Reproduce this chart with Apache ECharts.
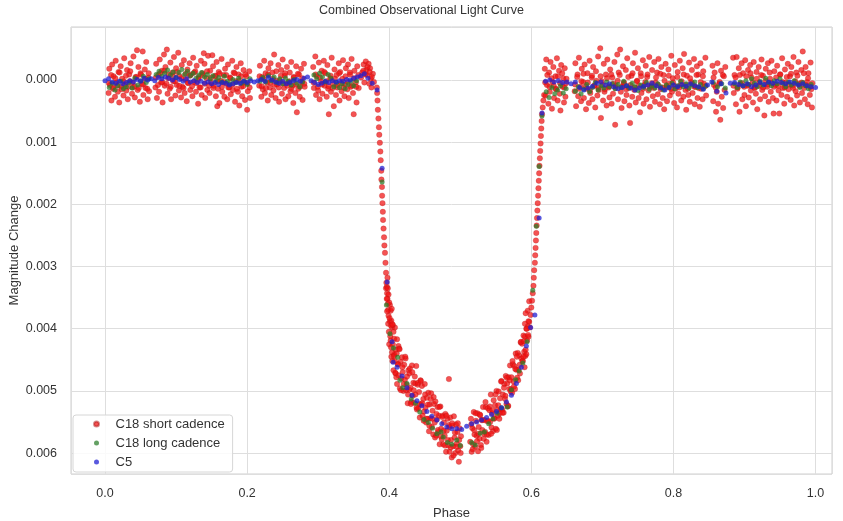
<!DOCTYPE html>
<html>
<head>
<meta charset="utf-8">
<script src="https://cdn.jsdelivr.net/npm/echarts@6/dist/echarts.min.js"></script>
<style>html,body{margin:0;padding:0;background:#fff}#c{width:843px;height:521px}</style>
</head>
<body>
<div id="c"></div>
<script>
const chartTitle = 'Combined Observational Light Curve';
const xName = 'Phase';
const yName = 'Magnitude Change';
const seriesNames = ['C18 short cadence', 'C18 long cadence', 'C5'];

// C18 short cadence [phase, magnitude change]
const shortCadence = [
[.005,.00021],[.006,-.00018],[.007,.00008],[.009,.00033],[.010,-.00025],[.011,.00014],[.012,-.00006],[.014,.00027],[.015,-.00031],[.016,.00004],[.018,.00019],[.019,-.00013],[.020,.00036],[.022,-.00022],[.023,.00011],[.024,-.00002],[.026,.00025],[.027,-.00035],[.028,.00007],[.030,.00017],[.031,-.00016],[.032,.00031],[.034,-.00009],[.035,.00002],[.036,-.00027],[.038,.00022],[.039,.00012],[.040,-.00038],[.042,.00028],[.043,-.00005],[.045,-.00048],[.046,.00016],[.047,-.00021],[.049,.00035],[.050,-.00011],[.052,.00006],[.053,-.00046],[.054,.00024],[.056,-.00017],[.057,.00013],[.058,-.00029],[.060,.00031],[.061,-.00004],[.062,.00018],
[.071,.00012],[.072,-.00026],[.073,.00029],[.075,-.00008],[.076,.00019],[.077,-.00033],[.079,.00004],[.080,-.00015],[.081,.00036],[.083,-.00041],[.084,.00009],[.085,-.00021],[.087,-.00049],[.088,.00022],[.089,-.00003],[.091,.00014],[.092,-.00028],[.093,.00031],[.095,-.00012],[.096,.00002],[.097,-.00037],[.099,.00025],[.100,-.00019],[.101,.00008],[.103,-.00044],[.104,.00017],[.105,-.00006],[.107,.00028],[.108,-.00024],[.109,.00011],[.111,-.00032],[.112,.00021],[.113,-.00001],[.115,.00034],[.116,-.00017],[.117,.00005],[.119,-.00027],[.120,.00016],[.121,-.00009],[.123,.00026],[.124,-.00036],[.125,.00003],[.127,-.00014],[.128,.00019],[.129,-.00023],[.131,.00038],[.132,-.00005],[.133,.00012],[.135,-.00031],[.136,.00024],[.137,-.00011],[.139,-.00043],[.140,-.00026],[.141,.00029],[.143,-.00003],[.144,.00016],[.145,-.00039],[.147,.00021],[.148,-.00015],[.149,.00004],[.151,-.00040],[.152,-.00022],[.153,.00009],[.155,-.00007],[.156,.00026],[.157,-.00029],[.158,.00042],[.159,.00014],[.160,-.00013],[.161,.00037],[.163,.00001],[.164,-.00034],[.165,.00019],[.167,-.00008],[.168,.00027],[.169,-.00018],[.171,.00006],[.172,.00031],[.173,-.00025],[.175,.00012],[.176,-.00004],[.177,.00023],[.179,-.00031],[.180,.00016],[.181,-.00012],[.183,.00035],[.184,.00002],[.185,-.00021],[.187,.00019],[.188,-.00009],[.189,.00041],[.191,-.00027],[.192,.00011],[.193,.00026],[.195,-.00016],[.196,.00004],[.197,.00032],[.199,-.00006],[.200,.00048],[.201,.00018],[.203,-.00014],[.204,.00029],
[.217,.00009],[.218,-.00023],[.220,.00027],[.221,-.00005],[.222,.00015],[.224,-.00031],[.225,.00021],[.226,-.00011],[.228,.00004],[.229,.00033],[.230,-.00019],[.232,.00012],[.233,-.00027],[.234,.00024],[.236,-.00002],[.237,.00017],[.238,-.00041],[.240,.00029],[.241,-.00014],[.242,.00007],[.244,-.00024],[.245,.00035],[.246,.00001],[.248,-.00016],[.249,.00022],[.250,-.00033],[.252,.00013],[.253,-.00007],[.254,.00031],[.256,-.00021],[.257,.00005],[.258,.00026],[.260,-.00012],[.261,.00018],[.262,-.00029],[.264,.00009],[.265,.00037],[.266,-.00004],[.268,.00021],[.269,-.00022],[.270,.00052],[.272,.00014],[.273,-.00009],[.274,.00027],[.276,-.00018],[.277,.00003],[.278,.00032],[.280,-.00026],[.281,.00011],
[.293,-.00021],[.294,.00013],[.296,-.00038],[.297,.00024],[.298,-.00006],[.300,.00017],[.301,-.00028],[.302,.00031],[.304,.00002],[.305,-.00015],[.306,.00022],[.308,-.00031],[.309,.00009],[.310,-.00011],[.312,.00027],[.313,-.00024],[.314,.00014],[.315,.00055],[.317,-.00003],[.318,.00019],[.319,-.00036],[.321,.00006],[.322,.00042],[.323,-.00017],[.325,.00024],[.326,-.00008],[.327,.00012],[.329,-.00027],[.330,.00033],[.331,-.00013],[.333,.00018],[.334,-.00002],[.335,-.00032],[.337,.00026],[.338,.00007],[.339,-.00019],[.341,.00015],[.342,-.00025],[.343,.00029],[.345,-.00009],[.346,.00011],[.347,-.00034],[.349,.00021],[.350,.00055],[.351,-.00015],[.353,.00004],[.354,.00036],[.355,-.00022],[.357,.00013],
[.362,-.00012],[.364,-.00025],[.365,.00004],[.367,-.00030],[.368,-.00017],[.369,-.00008],[.371,-.00026],[.372,.00006],[.373,-.00019],[.374,-.00002],[.375,.00012],[.377,-.00010],
[.0055,.00005],[.0085,-.00008],[.0115,.00012],[.0145,-.00003],[.0175,.00009],[.0205,-.00012],[.0235,.00015],[.0265,.00002],[.0295,-.00007],[.0325,.00011],[.0355,-.00014],[.0385,.00004],[.0415,.0001],[.0445,-.00005],[.0475,.00013],[.0505,-.00009],[.0535,.00007],[.0565,-.00002],[.0595,.00014],[.0615,-.00011],
[.0715,-.00004],[.0745,.00008],[.0775,-.00011],[.0805,.00003],[.0835,-.00015],[.0865,.00006],[.0895,-.00009],[.0925,.00011],[.0955,-.00006],[.0985,.00002],[.1015,-.00013],[.1045,.00009],[.1075,-.00003],[.1105,.00013],[.1135,-.0001],[.1165,.00004],[.1195,-.00007],[.1225,.0001],[.1255,-.00012],[.1285,.00005],[.1315,-.00002],[.1345,.00012],[.1375,-.00008],[.1405,.00006],[.1435,-.00014],[.1465,.00009],[.1495,-.00004],[.1525,.00013],[.1555,-.00006],[.1585,.00002],[.1615,-.0001],[.1645,.00011],[.1675,.00003],[.1705,-.00008],[.1735,.00012],[.1765,-.00003],[.1795,.00007],[.1825,-.00011],[.1855,.00014],[.1885,.00001],[.1915,-.00006],[.1945,.0001],[.1975,-.00009],[.2005,.00005],[.2035,.00012],
[.2175,-.00006],[.2205,.0001],[.2235,-.00002],[.2265,.00013],[.2295,-.00009],[.2325,.00004],[.2355,-.00012],[.2385,.00008],[.2415,.00001],[.2445,.00012],[.2475,-.00007],[.2505,.00005],[.2535,-.00011],[.2565,.00009],[.2595,.00002],[.2625,.00014],[.2655,-.00005],[.2685,.00007],[.2715,-.0001],[.2745,.00011],[.2775,-.00003],[.2805,.00006],
[.2935,.00004],[.2965,-.00009],[.2995,.00011],[.3025,-.00004],[.3055,.00007],[.3085,-.00013],[.3115,.00002],[.3145,.0001],[.3175,-.00007],[.3205,.00013],[.3235,-.00002],[.3265,.00008],[.3295,-.00011],[.3325,.00005],[.3355,.00012],[.3385,-.00006],[.3415,.00003],[.3445,-.00012],[.3475,.00009],[.3505,-.00003],[.3535,.00011],[.3565,-.00008],
[.3605,-.00004],[.3635,-.00015],[.3665,-.00009],[.3695,-.00021],[.3725,-.00013],[.3755,-.00005],[.3785,.00003],
[.3825,.00012],[.383,.00021],[.3835,.00033],[.384,.00048],[.3848,.00062],[.3855,.00076],[.386,.00088],[.3868,.00101],[.3875,.00115],[.388,.00129],[.3888,.00146],[.389,.00160],[.3898,.00172],[.390,.00186],[.3905,.00198],[.391,.00212],[.3913,.00225],[.392,.00239],[.3927,.00253],[.3932,.00266],[.394,.00278],[.3947,.00294],[.3955,.0031],[.396,.00326],[.3965,.00333],[.397,.00343],[.3975,.00352],[.398,.0036],[.3985,.0037],[.399,.00379],[.399,.00345],[.401,.00362],[.402,.00371],[.403,.00445],[.404,.00398],[.406,.00405],[.408,.00398],[.409,.00472],[.411,.00489],[.413,.00428],
[.3955,.00335],[.3965,.00352],[.3975,.00318],[.3985,.00392],[.3995,.00405],[.400,.00358],[.4015,.00412],[.4035,.00368],[.405,.00394],[.407,.00442],[.398,.00335],[.397,.00372],[.4025,.00395],[.4045,.00452],
[.400,.00425],[.401,.00388],[.402,.00419],[.403,.00387],[.404,.00438],[.405,.00425],[.406,.00467],[.407,.00416],[.408,.00452],[.409,.00434],[.410,.00478],[.411,.00417],[.412,.00457],[.413,.00475],[.414,.00432],[.415,.00496],[.416,.00453],[.417,.0048],[.418,.00446],[.419,.0047],[.420,.005],[.421,.00458],[.422,.00482],[.423,.00448],[.424,.00499],[.425,.00477],[.426,.0052],[.427,.00467],[.428,.00498],[.429,.00464],[.430,.00495],[.431,.00518],[.432,.00459],[.433,.00508],[.434,.00487],[.435,.00519],[.436,.00477],[.437,.00506],[.438,.0046],[.439,.0053],[.440,.0049],[.441,.00528],[.442,.00502],[.443,.00543],[.444,.00483],[.445,.00522],[.446,.00492],[.447,.0054],[.448,.00513],[.449,.00533],[.450,.00489],[.451,.00527],[.452,.00551],[.453,.00511],[.454,.00545],[.455,.00503],[.456,.00565],[.457,.00522],[.458,.00544],[.459,.00504],[.460,.00558],[.461,.00532],[.462,.0057],[.463,.00521],[.464,.00551],[.465,.00517],[.466,.00572],[.467,.00546],[.468,.00526],[.469,.00566],[.470,.0054],[.471,.00586],[.472,.00525],[.473,.00561],[.474,.00578],[.475,.0054],[.476,.00586],[.477,.00551],[.478,.00572],[.479,.00537],[.480,.00598],[.481,.00564],[.482,.00545],[.483,.00588],[.484,.00555],[.484,.00481],[.485,.00598],[.486,.00543],[.487,.00579],[.488,.00607],[.489,.00556],[.490,.00589],[.491,.00541],[.492,.00575],[.493,.006],[.494,.00554],[.495,.00585],[.496,.00566],[.497,.00596],[.498,.00614],[.499,.0056],[.500,.00589],[.501,.00573],
[.4005,.00383],[.4025,.0043],[.4045,.00393],[.4065,.00444],[.4085,.00471],[.4105,.0044],[.4125,.00457],[.4145,.00433],[.4165,.00499],[.4185,.00462],[.4205,.00489],[.4225,.00445],[.4245,.0049],[.4265,.00506],[.4285,.00472],[.4305,.00521],[.4325,.0047],[.4345,.00499],[.4365,.00488],[.4385,.00527],[.4405,.00487],[.4425,.00521],[.4445,.00484],[.4465,.0052],[.4485,.00548],[.4505,.00506],[.4525,.00545],[.4545,.00522],[.4565,.00556],[.4585,.00513],[.4605,.00545],[.4625,.0051],[.4645,.00575],[.4665,.00537],[.4685,.00563],[.4705,.00526],[.4725,.00573],[.4745,.00542],[.4765,.00564],[.4785,.00588],[.4805,.0054],[.4825,.00579],[.4845,.00558],[.4865,.00591],[.4885,.00552],[.4905,.00604],[.4925,.00567],[.4945,.0059],[.4965,.00552],[.4985,.00579],[.5005,.006],
[.514,.00582],[.515,.00545],[.516,.00598],[.517,.0056],[.518,.00586],[.519,.00534],[.520,.0057],[.521,.0059],[.522,.00548],[.523,.00572],[.524,.00536],[.525,.00597],[.526,.00558],[.527,.00577],[.528,.00539],[.529,.00587],[.530,.00547],[.531,.00563],[.532,.00526],[.533,.00577],[.534,.00547],[.535,.00566],[.536,.00526],[.537,.00582],[.538,.00549],[.539,.00528],[.540,.00571],[.541,.00531],[.542,.0055],[.543,.00506],[.544,.00559],[.545,.00536],[.546,.00565],[.547,.00515],[.548,.00544],[.549,.00523],[.550,.00561],[.551,.005],[.552,.00531],[.553,.0054],[.554,.00501],[.555,.00545],[.556,.00512],[.557,.0053],[.558,.00484],[.559,.0053],[.560,.00506],[.561,.00535],[.562,.00489],[.563,.00513],[.564,.00476],[.565,.00521],[.566,.00488],[.567,.00525],[.568,.00478],[.569,.00497],[.570,.00459],[.571,.00501],[.572,.00478],[.573,.00503],[.574,.00457],[.575,.00485],[.576,.0046],[.577,.00497],[.578,.0044],[.579,.00466],[.580,.00479],[.581,.00439],[.582,.00466],[.583,.00443],[.584,.00472],[.585,.00422],[.586,.00448],[.587,.00424],[.588,.00452],[.589,.00411],[.590,.00437],[.591,.00413],[.592,.00434],[.593,.004],[.594,.00419],[.595,.00396],[.596,.00413],[.597,.00389],[.598,.00398],
[.5155,.00554],[.5175,.00594],[.5195,.00563],[.5215,.00536],[.5235,.00581],[.5255,.00569],[.5275,.00538],[.5295,.00592],[.5315,.00547],[.5335,.00569],[.5355,.00518],[.5375,.0057],[.5395,.00548],[.5415,.00525],[.5435,.00569],[.5455,.00531],[.5475,.00545],[.5495,.00506],[.5515,.00563],[.5535,.00523],[.5555,.00536],[.5575,.00485],[.5595,.00535],[.5615,.00495],[.5635,.00508],[.5655,.00479],[.5675,.00524],[.5695,.00483],[.5715,.00497],[.5735,.00452],[.5755,.00493],[.5775,.00465],[.5795,.00445],[.5815,.00483],[.5835,.00458],[.5855,.00421],[.5875,.00452],[.5895,.0042],[.5915,.00444],[.5935,.004],[.5955,.0041],
[.595,.00371],[.596,.00388],[.593,.00441],[.591,.00392],[.589,.00445],[.597,.00356],[.592,.00375],[.5905,.00462],
[.599,.00378],[.600,.00366],[.601,.00355],[.602,.00343],[.603,.00331],[.6035,.00318],[.604,.00306],[.605,.00294],[.6055,.00282],[.606,.0027],[.6065,.00258],[.607,.00246],[.6075,.00234],[.608,.00222],[.6085,.0021],[.609,.00198],[.6095,.00186],[.610,.00174],[.6105,.00162],[.611,.0015],[.6115,.00138],[.612,.00126],[.6125,.00114],[.613,.00102],[.6135,.0009],[.614,.00078],[.6145,.00066],[.615,.00055],[.616,.00044],[.617,.00033],[.618,.00024],
[.619,-.00018],[.620,.00025],[.621,-.00033],[.622,.00008],[.624,.00038],[.625,-.00012],[.626,.00019],[.627,-.00029],[.629,.00046],[.630,.00003],[.631,-.00021],[.632,.00029],[.634,-.00006],[.635,.00015],[.636,-.00035],[.637,.00033],[.639,-.00015],[.640,.00022],[.641,.00049],[.642,-.00024],[.644,.00011],[.645,-.00003],[.646,.00036],[.647,-.00019],[.648,.00027],[.649,.00005],
[.6195,.00004],[.6225,-.00008],[.6255,.00011],[.6285,-.00003],[.6315,.00009],[.6345,.00014],[.6375,-.00006],[.6405,.00005],[.6435,-.00011],[.6465,.00012],[.6495,-.00002],
[.661,.00018],[.662,-.00027],[.663,.00042],[.665,-.00009],[.666,.00026],[.667,-.00036],[.669,.00011],[.670,.00034],[.671,-.00018],[.673,.00003],[.674,.00029],[.675,-.00025],[.677,.00047],[.678,.00014],[.679,-.00011],[.681,.00037],[.682,-.00031],[.683,.00021],[.685,-.00004],[.686,.00031],[.687,-.00021],[.689,.00009],[.690,.00044],[.691,-.00014],[.693,.00025],[.694,-.00038],[.695,.00016],[.697,-.00051],[.698,.00061],[.699,.00002],[.701,.00033],[.702,-.00026],[.703,.00019],[.705,-.00009],[.706,.00041],[.707,-.00033],[.709,.00012],[.710,.00028],[.711,-.00017],[.713,.00038],[.714,-.00004],[.715,.00022],[.717,-.00029],[.718,.00072],[.719,.00009],[.721,-.00041],[.722,.00031],[.723,-.00012],[.725,-.00049],[.726,.00019],[.727,.00045],[.729,-.00022],[.730,.00006],[.731,.00034],[.733,-.00016],[.734,.00024],[.735,-.00035],[.737,.00013],[.738,.00041],[.739,.00069],[.741,-.00007],[.742,.00027],[.743,-.00027],[.745,.00016],[.746,-.00044],[.747,.00036],[.749,.00001],[.750,-.00019],[.751,.00029],[.753,.00052],[.754,-.00011],[.755,.00021],[.757,-.00032],[.758,.00038],[.759,.00008],[.761,-.00023],[.762,.00031],[.763,-.00005],[.765,.00017],[.766,-.00037],[.767,.00043],[.769,.00011],[.770,-.00016],[.771,.00026],[.773,-.00029],[.774,.00035],[.775,.00004],[.777,-.00012],[.778,.00023],[.779,-.00034],[.781,.00039],[.782,.00015],[.783,-.00021],[.785,.00029],[.786,-.00008],[.787,.00047],[.789,-.00026],[.790,.00012],[.791,.00034],[.793,-.00017],[.794,.00006],[.795,.00025],[.797,-.00039],[.798,.00019],[.799,-.00003],[.801,.00037],[.802,-.00024],[.803,.00014],[.805,.00044],[.806,-.00013],[.807,.00022],[.809,-.00031],[.810,.00008],[.811,.00033],[.813,-.00019],[.814,.00027],[.815,-.00042],[.817,.00016],[.818,.00048],[.819,-.00007],[.821,.00024],[.822,-.00028],[.823,.00035],[.825,.00003],[.826,-.00016],[.827,.00021],[.829,-.00034],[.830,.00039],[.831,.00011],[.833,-.00022],[.834,.00029],[.835,-.00009],[.837,.00043],[.838,-.00027],[.839,.00014],[.841,.00031],[.842,-.00014],[.843,.00006],[.845,-.00036],[.846,.00025],
[.6615,.00007],[.6645,-.00005],[.6675,.00014],[.6705,.00002],[.6735,-.0001],[.6765,.00011],[.6795,.00004],[.6825,.00016],[.6855,-.00007],[.6885,.00009],[.6915,.00001],[.6945,.00013],[.6975,-.00006],[.7005,.00008],[.7035,.00015],[.7065,-.00003],[.7095,.0001],[.7125,-.00009],[.7155,.00006],[.7185,.00013],[.7215,.00001],[.7245,-.00008],[.7275,.00011],[.7305,.00004],[.7335,.00015],[.7365,-.00005],[.7395,.00008],[.7425,-.00011],[.7455,.00012],[.7485,.00002],[.7515,.00009],[.7545,-.00006],[.7575,.00014],[.7605,.00003],[.7635,-.00009],[.7665,.0001],[.7695,.00005],[.7725,.00013],[.7755,-.00004],[.7785,.00008],[.7815,-.0001],[.7845,.00012],[.7875,.00001],[.7905,.00009],[.7935,-.00007],[.7965,.00014],[.7995,.00004],[.8025,.0001],[.8055,-.00005],[.8085,.00012],[.8115,.00002],[.8145,-.00009],[.8175,.00008],[.8205,.00014],[.8235,-.00003],[.8265,.00006],[.8295,.00011],[.8325,-.00008],[.8355,.00013],[.8385,.00003],[.8415,-.00006],[.8445,.0001],
[.855,-.00023],[.856,.00034],[.857,.00008],[.858,-.00012],[.860,.00051],[.861,.00019],[.862,-.00027],[.863,.00038],[.865,.00003],[.866,.00064],[.867,-.00015],[.868,.00027],[.870,.00045],[.871,-.00006],[.872,.00016],[.873,-.00021],
[.8565,-.00004],[.8595,.00012],[.8645,.00006],[.8695,-.00008],
[.884,-.00036],[.885,.00021],[.886,-.00008],[.888,.00039],[.889,-.00037],[.890,.00014],[.892,-.00019],[.893,.00051],[.894,.00006],[.896,-.00027],[.897,.00031],[.898,-.00011],[.900,.00024],[.901,-.00032],[.902,.00042],[.904,.00009],[.905,-.00016],[.906,.00028],[.908,-.00024],[.909,.00017],[.910,-.00004],[.912,.00036],[.913,-.00029],[.914,.00012],[.916,.00022],[.917,-.00013],[.918,.00047],[.920,-.00021],[.921,.00004],[.922,.00031],[.924,-.00033],[.925,.00016],[.926,-.00007],[.928,.00057],[.929,.00026],[.930,-.00018],[.932,.00011],[.933,-.00027],[.934,.00035],[.936,-.00002],[.937,.00019],[.938,-.00031],[.940,.00029],[.941,.00054],[.942,-.00014],[.944,.00008],[.945,.00033],[.946,-.00023],[.948,.00017],[.949,.00054],[.950,-.00009],[.952,.00024],[.953,-.00035],[.954,.00013],[.956,.00038],[.957,-.00017],[.958,.00004],[.960,.00027],[.961,-.00026],[.962,.00015],[.964,-.00006],[.965,.00032],[.966,-.00021],[.968,.00009],[.969,-.00037],[.970,.00041],[.972,.00018],[.973,-.00012],[.974,.00025],[.976,-.00029],[.977,.00006],[.978,.00036],[.980,-.00016],[.981,.00021],[.982,-.00046],[.984,.00013],[.985,.00031],[.986,-.00021],[.988,.00003],[.989,.00039],[.990,-.00011],[.992,.00024],[.993,-.00028],[.994,.00015],[.995,.00044],
[.8845,.00009],[.8875,-.00004],[.8905,.00012],[.8935,-.00008],[.8965,.00005],[.8995,.00011],[.9025,-.00006],[.9055,.00008],[.9085,-.00011],[.9115,.00004],[.9145,.00013],[.9175,-.00002],[.9205,.00009],[.9235,-.00008],[.9265,.00012],[.9295,.00001],[.9325,.00007],[.9355,-.00012],[.9385,.00005],[.9415,.00011],[.9445,-.00004],[.9475,.00009],[.9505,-.00009],[.9535,.00003],[.9565,.00012],[.9595,-.00005],[.9625,.00007],[.9655,-.0001],[.9685,.00013],[.9715,.00002],[.9745,-.00007],[.9775,.0001],[.9805,.00004],[.9835,-.00011],[.9865,.00008],[.9895,-.00003],[.9925,.00011],[.9955,.00005]
];

// C18 long cadence [phase, magnitude change]
const longCadence = [
[.006,.00012],[.010,.00005],[.014,.00016],[.018,.00009],[.022,.00002],[.026,.00014],[.030,.00011],[.034,.00004],[.038,.00013],[.042,-.00003],[.046,.00008],[.050,.00001],[.054,-.00006],[.058,.00004],[.062,-.00002],
[.072,-.00009],[.076,-.00014],[.080,-.00006],[.084,-.00011],[.088,-.00016],[.092,-.00008],[.096,-.00013],[.100,-.00004],[.104,-.00012],[.108,-.00017],[.112,-.00009],[.116,-.00014],[.120,-.00007],[.124,-.00011],[.128,-.00003],[.132,-.00008],[.136,-.00012],[.140,-.00005],[.144,-.00009],[.148,-.00002],[.152,-.00007],[.156,.00001],[.160,-.00004],[.164,.00003],[.168,-.00006],[.172,.00002],[.176,.00006],[.180,-.00001],[.184,.00004],[.188,-.00003],[.192,.00005],[.196,.00001],[.200,.00007],[.204,-.00002],
[.218,.00002],[.222,-.00004],[.226,.00003],[.230,-.00007],[.234,.00001],[.238,-.00005],[.242,.00004],[.246,-.00002],[.250,.00006],[.254,-.00003],[.258,.00002],[.262,.00008],[.266,-.00001],[.270,.00005],[.274,.00011],[.278,.00003],
[.294,-.00008],[.298,-.00002],[.302,-.00011],[.306,-.00005],[.310,.00003],[.314,-.00009],[.318,-.00003],[.322,.00011],[.326,.00004],[.330,.00012],[.334,.00006],[.338,.00014],[.342,.00007],[.346,.00002],[.350,.00009],[.354,.00001],
[.390,.00164],[.396,.00362],[.401,.00408],[.406,.00431],[.412,.00446],[.415,.00483],[.419,.00495],[.425,.00488],[.431,.00513],[.437,.0052],[.443,.00534],[.449,.00546],[.455,.00551],[.461,.0056],[.467,.00569],[.473,.00566],[.476,.00574],[.482,.00583],[.488,.00586],[.495,.00579],[.500,.00588],
[.516,.00583],[.521,.00587],[.528,.00568],[.534,.00566],[.540,.00553],[.546,.00545],[.552,.00536],[.558,.00527],[.566,.00526],[.572,.00498],[.578,.00482],[.583,.00468],[.588,.00455],[.594,.00421],[.602,.00338],[.607,.00235],[.611,.00139],[.615,.00058],
[.621,.00019],[.625,.00028],[.629,.00012],[.633,.00022],[.637,.00016],[.641,.00009],[.645,.00021],[.649,.00014],
[.662,.00018],[.666,.00011],[.670,.00022],[.674,.00015],[.678,.00007],[.682,.00019],[.686,.00012],[.690,.00004],[.694,.00016],[.698,.00009],[.702,.00013],[.706,.00003],[.710,.00011],[.714,.00006],[.718,.00014],[.722,.00007],[.726,.00012],[.730,.00002],[.734,.00009],[.738,.00013],[.742,.00005],[.746,.00011],[.750,.00017],[.754,.00008],[.758,.00012],[.762,.00004],[.766,.00015],[.770,.00009],[.774,.00013],[.778,.00006],[.782,.00011],[.786,.00016],[.790,.00008],[.794,.00012],[.798,.00005],[.802,.00014],[.806,.00009],[.810,.00002],[.814,.00011],[.818,.00006],[.822,.00013],[.826,.00008],[.830,.00003],[.834,.00012],[.838,.00007],[.842,.00014],[.846,.00009],
[.856,.00004],[.862,.00011],[.868,.00006],[.873,.00013],
[.886,.00006],[.890,.00012],[.894,.00003],[.898,.00009],[.902,.00001],[.906,.00007],[.910,-.00002],[.914,.00005],[.918,.00011],[.922,.00002],[.926,.00008],[.930,-.00003],[.934,.00004],[.938,.00009],[.942,.00001],[.946,.00006],[.950,-.00002],[.954,.00005],[.958,.00011],[.962,.00003],[.966,.00008],[.970,.00001],[.974,.00006],[.978,.00012],[.982,.00004],[.986,.00009],[.990,.00014],[.994,.00007]
];

// C5 [phase, magnitude change]
const c5 = [
[0,.00001],[.005,-.00002],[.010,.00003],[.015,.00005],[.020,.00002],[.025,.00006],[.030,.00004],[.035,.00001],[.040,.00003],[.045,-.00001],[.050,.00002],[.055,-.00003],[.060,0],[.065,-.00002],[.070,.00001],[.075,-.00004],[.080,-.00002],[.085,-.00005],[.090,-.00003],[.095,0],[.100,-.00004],[.105,-.00001],[.110,.00002],[.115,-.00002],[.120,.00003],[.125,.00001],[.130,.00004],[.135,.00002],[.140,.00005],[.145,.00003],[.150,.00006],[.155,.00004],[.160,.00007],[.165,.00004],[.170,.00005],[.175,.00008],[.180,.00006],[.185,.00004],[.190,.00005],[.195,.00002],[.200,.00004],[.205,.00001],[.210,.00003],[.215,.00001],[.220,-.00001],[.225,.00002],[.230,-.00004],[.235,0],[.240,.00003],[.245,.00005],[.250,.00002],[.255,.00006],[.260,.00004],[.265,.00001],[.270,-.00001],[.275,.00002],[.280,-.00003],[.285,-.00005],[.290,.00001],[.295,.00004],[.300,.00007],[.305,.00005],[.310,.00002],[.315,.00004],[.320,.00001],[.325,.00003],[.330,.00001],[.335,.00002],[.340,-.00001],[.345,0],[.350,-.00003],[.355,-.00005],[.360,-.00007],[.365,-.0001],[.370,-.00003],[.376,.00005],
[.383,.00016],[.390,.00142],[.397,.00325],[.404,.00421],[.4055,.00454],[.411,.00462],[.418,.00476],[.425,.00495],[.432,.00507],[.439,.00516],[.446,.00524],[.453,.00533],[.460,.00541],[.467,.00547],[.474,.00553],[.481,.00558],[.488,.00561],[.495,.00561],[.502,.00562],[.509,.00557],[.516,.00553],[.523,.0055],[.530,.00547],[.537,.00543],[.544,.00538],[.551,.00533],[.558,.00527],[.565,.00518],[.572,.00507],[.579,.00488],[.586,.00462],[.593,.00428],[.599,.00398],[.605,.00378],[.611,.00222],[.615,.00053],
[.620,.00002],[.626,0],[.632,.00003],[.638,.00001],[.644,.00004],[.650,.00003],[.656,.00006],[.662,.00003],[.668,.00012],[.674,.00016],[.680,.00013],[.686,.0001],[.692,.00005],[.698,.00003],[.704,.00008],[.710,.00006],[.716,.00011],[.722,.00014],[.728,.00012],[.734,.00009],[.740,.00013],[.746,.00016],[.752,.00013],[.758,.0001],[.764,.00008],[.770,.00005],[.776,.00009],[.782,.00013],[.788,.00016],[.794,.00012],[.800,.00008],[.806,.00011],[.812,.00007],[.818,.0001],[.824,.00006],[.830,.00009],[.836,.00011],[.842,.00015],[.848,.00008],[.854,.00003],[.861,.00018],[.867,.00006],[.874,.00021],[.880,.00005],[.886,.00004],[.892,.00007],[.898,.00009],[.904,.00006],[.910,.00011],[.916,.00008],[.922,.00004],[.928,.00007],[.934,.00003],[.940,.00005],[.946,.00002],[.952,.00004],[.958,.00006],[.964,.00003],[.970,.00005],[.976,.00008],[.982,.00006],[.988,.00009],[.994,.00011],[1,.00012]
];

const xTickStep = 0.2;
const yTickStep = 0.001;

const chart = echarts.init(document.getElementById('c'), null, {renderer: 'canvas'});
const textColor = '#333';
const font = 'Liberation Sans, Arial, sans-serif';
function isMult(v, s) { const r = v / s; return Math.abs(r - Math.round(r)) < 1e-6; }

chart.setOption({
  animation: false,
  backgroundColor: '#fff',
  title: {
    text: chartTitle, left: 'center', top: 4, padding: 0,
    textStyle: {fontSize: 12.5, fontWeight: 'normal', color: textColor, fontFamily: font}
  },
  grid: {left: 71, right: 11, top: 27, bottom: 47, containLabel: false, outerBoundsMode: 'none',
    show: true, borderColor: '#cfcfcf', borderWidth: 1, backgroundColor: '#fff'},
  legend: {
    orient: 'vertical', left: 73, top: 415,
    data: seriesNames,
    icon: 'circle', itemWidth: 28, itemHeight: 5, itemGap: 5,
    padding: [2, 8, 3, 20],
    backgroundColor: 'rgba(255,255,255,0.85)', borderColor: '#d6d6d6', borderWidth: 1, borderRadius: 3,
    textStyle: {fontSize: 13, color: textColor, fontFamily: font, lineHeight: 14}
  },
  xAxis: {
    type: 'value', min: -0.0479, max: 1.0232, splitNumber: 5,
    name: xName, nameLocation: 'middle', nameGap: 33,
    nameTextStyle: {fontSize: 13, color: textColor, fontFamily: font},
    axisLine: {show: false}, axisTick: {show: false},
    axisLabel: {fontSize: 12.5, color: textColor, fontFamily: font, margin: 13, showMinLabel: false, showMaxLabel: false,
      formatter: v => isMult(v, xTickStep) ? v.toFixed(1) : ''},
    splitLine: {show: true, lineStyle: {color: '#dedede', width: 1}}
  },
  yAxis: {
    type: 'value', inverse: true, min: -0.000853, max: 0.006337, splitNumber: 7,
    name: yName, nameLocation: 'middle', nameGap: 50, nameRotate: 90, nameMoveOverlap: false,
    nameTextStyle: {fontSize: 13, color: textColor, fontFamily: font},
    axisLine: {show: false}, axisTick: {show: false},
    axisLabel: {fontSize: 12.5, color: textColor, fontFamily: font, margin: 14, showMinLabel: false, showMaxLabel: false,
      formatter: v => isMult(v, yTickStep) ? v.toFixed(3) : ''},
    splitLine: {show: true, lineStyle: {color: '#dedede', width: 1}}
  },
  series: [
    {name: seriesNames[0], type: 'scatter', data: shortCadence, symbolSize: 5.5,
     itemStyle: {color: 'rgba(240,16,16,0.9)', borderColor: 'rgba(170,20,20,0.6)', borderWidth: 0.5}, z: 2},
    {name: seriesNames[1], type: 'scatter', data: longCadence, symbolSize: 5,
     itemStyle: {color: 'rgba(40,125,40,0.9)'}, z: 3},
    {name: seriesNames[2], type: 'scatter', data: c5, symbolSize: 5,
     itemStyle: {color: 'rgba(30,30,210,0.92)'}, z: 4}
  ]
});
</script>
</body>
</html>
